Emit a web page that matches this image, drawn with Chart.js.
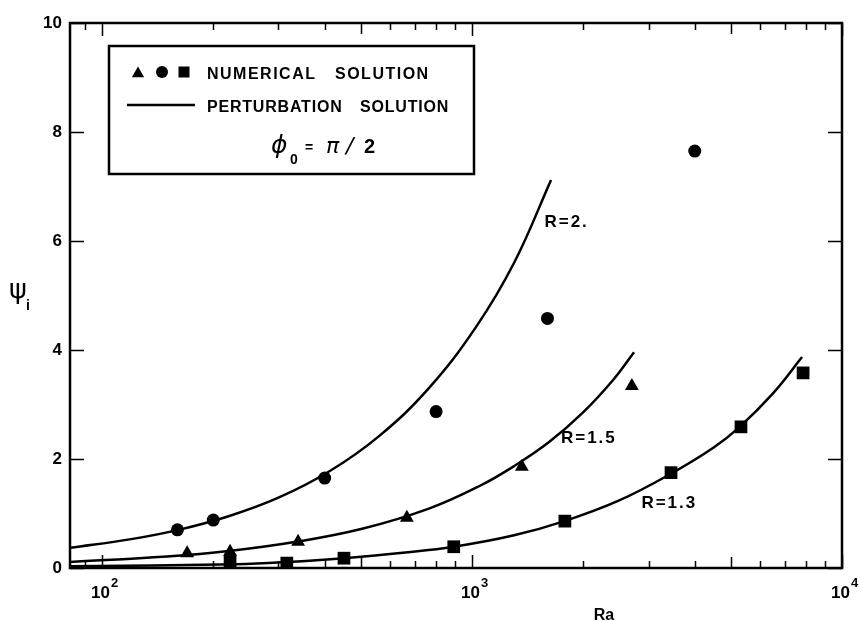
<!DOCTYPE html>
<html>
<head>
<meta charset="utf-8">
<script src="https://cdn.jsdelivr.net/npm/chart.js@4.4.1/dist/chart.umd.min.js"></script>
<style>
  html, body { margin: 0; background: #fff; }
  #wrap { width: 859px; height: 621px; }
</style>
</head>
<body>
<div id="wrap"><canvas id="chart"></canvas></div>
<script>
// numerical solution (markers)
const circleRa = [160, 200, 400, 800, 1600, 4000];
const circlePsi = [0.70, 0.88, 1.65, 2.87, 4.58, 7.65];
const triangleRa = [170, 222, 339, 667, 1364, 2705];
const trianglePsi = [0.27, 0.30, 0.48, 0.92, 1.86, 3.34];
const squareRa = [222, 316, 451, 893, 1783, 3451, 5333, 7850];
const squarePsi = [0.12, 0.09, 0.18, 0.39, 0.86, 1.75, 2.59, 3.58];

// perturbation solution (curves)
const curveR2Ra = [82, 120, 161, 220, 300, 411, 561, 765, 1025, 1300, 1636];
const curveR2Psi = [0.37, 0.53, 0.70, 0.95, 1.29, 1.77, 2.42, 3.30, 4.42, 5.60, 7.12];
const curveR15Ra = [82, 150, 220, 335, 505, 765, 1045, 1300, 1616, 2000, 2400, 2742];
const curveR15Psi = [0.11, 0.21, 0.31, 0.48, 0.72, 1.09, 1.50, 1.87, 2.31, 2.86, 3.44, 3.96];
const curveR13Ra = [82, 230, 316, 451, 650, 893, 1300, 1778, 2500, 3470, 4500, 5272, 6500, 7800];
const curveR13Psi = [0.03, 0.07, 0.11, 0.18, 0.28, 0.39, 0.60, 0.86, 1.24, 1.74, 2.21, 2.58, 3.20, 3.87];

// axes
const xMin = 82, xMax = 10000;
const xMajorTicks = [100, 1000, 10000];
const xMajorExp = ['2', '3', '4'];
const xMinorTicks = [90, 200, 300, 400, 500, 600, 700, 800, 900,
  2000, 3000, 4000, 5000, 6000, 7000, 8000, 9000];
const yTicks = [0, 2, 4, 6, 8, 10];
const curveLabels = [
  { text: 'R=2.', ra: 1570, psi: 6.25 },
  { text: 'R=1.5', ra: 1740, psi: 2.3 },
  { text: 'R=1.3', ra: 2870, psi: 1.1 }
];

const pts = (xs, ys) => xs.map((v, i) => ({ x: v, y: ys[i] }));

function markerSet(label, xs, ys, style, r) {
  return {
    label, data: pts(xs, ys), showLine: false,
    pointStyle: style, pointRadius: r, pointHoverRadius: r,
    backgroundColor: '#000', borderColor: '#000', borderWidth: 0
  };
}
function curveSet(label, xs, ys) {
  return {
    label, data: pts(xs, ys), showLine: true, pointRadius: 0,
    borderColor: '#000', borderWidth: 2.5, tension: 0.4
  };
}

function drawPointShape(ctx, style, x, y, r) {
  ctx.beginPath();
  if (style === 'circle') {
    ctx.arc(x, y, r, 0, Math.PI * 2);
  } else if (style === 'triangle') {
    ctx.moveTo(x, y - r);
    ctx.lineTo(x + r * 0.95, y + r * 0.65);
    ctx.lineTo(x - r * 0.95, y + r * 0.65);
    ctx.closePath();
  } else {
    ctx.rect(x - r, y - r, 2 * r, 2 * r);
  }
  ctx.fill();
}

const inkPlugin = {
  id: 'ink',
  afterDraw(chart) {
    const { ctx, chartArea: a, scales: { x, y } } = chart;
    ctx.save();
    ctx.strokeStyle = '#000';
    ctx.fillStyle = '#000';

    // frame
    ctx.lineWidth = 2.5;
    ctx.strokeRect(a.left, a.top, a.right - a.left, a.bottom - a.top);

    // x ticks, inward on bottom and top
    ctx.lineWidth = 1.5;
    const tick = (v, len) => {
      const px = Math.round(x.getPixelForValue(v)) + 0.5;
      ctx.beginPath();
      ctx.moveTo(px, a.bottom); ctx.lineTo(px, a.bottom - len);
      ctx.moveTo(px, a.top); ctx.lineTo(px, a.top + len);
      ctx.stroke();
    };
    xMajorTicks.forEach(v => tick(v, 13));
    xMinorTicks.forEach(v => tick(v, String(v)[0] === '5' ? 11 : 7));

    // y ticks, inward on left and right
    yTicks.forEach(v => {
      const py = Math.round(y.getPixelForValue(v)) + 0.5;
      ctx.beginPath();
      ctx.moveTo(a.left, py); ctx.lineTo(a.left + 14, py);
      ctx.moveTo(a.right, py); ctx.lineTo(a.right - 14, py);
      ctx.stroke();
    });

    // y tick labels
    ctx.font = 'bold 17px "Liberation Sans"';
    ctx.textAlign = 'right';
    ctx.textBaseline = 'middle';
    yTicks.forEach(v => ctx.fillText(String(v), a.left - 8, y.getPixelForValue(v)));

    // x tick labels 10^n
    ctx.textBaseline = 'alphabetic';
    xMajorTicks.forEach((v, i) => {
      const px = x.getPixelForValue(v);
      ctx.font = 'bold 17px "Liberation Sans"';
      ctx.textAlign = 'right';
      ctx.fillText('10', px + 8, 598);
      ctx.font = 'bold 13px "Liberation Sans"';
      ctx.textAlign = 'left';
      ctx.fillText(xMajorExp[i], px + 9, 587);
    });

    // axis titles
    ctx.font = 'bold 16px "Liberation Sans"';
    ctx.textAlign = 'center';
    ctx.fillText('Ra', 604, 620);
    ctx.font = '27px "DejaVu Sans"';
    ctx.textAlign = 'left';
    ctx.fillText('ψ', 9, 298);
    ctx.font = 'bold 14px "Liberation Sans"';
    ctx.fillText('i', 26, 310);

    // curve labels
    ctx.font = 'bold 17px "Liberation Sans"';
    ctx.letterSpacing = '2px';
    curveLabels.forEach(c => {
      ctx.fillText(c.text, x.getPixelForValue(c.ra), y.getPixelForValue(c.psi));
    });

    // legend box
    ctx.letterSpacing = '0px';
    ctx.lineWidth = 2.5;
    ctx.strokeRect(109, 46, 365, 128);
    drawPointShape(ctx, 'triangle', 138, 73, 6.5);
    drawPointShape(ctx, 'circle', 162, 72, 6);
    drawPointShape(ctx, 'rect', 184, 72, 5.5);
    ctx.lineWidth = 2.5;
    ctx.beginPath();
    ctx.moveTo(127, 105); ctx.lineTo(195, 105);
    ctx.stroke();
    ctx.font = 'bold 16px "Liberation Sans"';
    ctx.letterSpacing = '1.5px';
    ctx.fillText('NUMERICAL', 207, 79);
    ctx.fillText('SOLUTION', 335, 79);
    ctx.letterSpacing = '0.8px';
    ctx.fillText('PERTURBATION', 207, 112);
    ctx.fillText('SOLUTION', 360, 112);
    ctx.letterSpacing = '0px';
    ctx.font = 'italic 25px "DejaVu Sans"';
    ctx.fillText('ϕ', 271, 153);
    ctx.font = 'bold 14px "Liberation Sans"';
    ctx.fillText('0', 290, 164);
    ctx.font = 'bold 14px "Liberation Sans"';
    ctx.fillText('=', 305, 152);
    ctx.font = 'italic 22px "DejaVu Sans"';
    ctx.fillText('π', 326, 153);
    ctx.fillText('/', 346, 153);
    ctx.font = 'bold 20px "Liberation Sans"';
    ctx.fillText('2', 364, 153);
    ctx.restore();
  }
};

new Chart(document.getElementById('chart'), {
  type: 'scatter',
  data: {
    datasets: [
      markerSet('circles', circleRa, circlePsi, 'circle', 6.5),
      markerSet('triangles', triangleRa, trianglePsi, 'triangle', 8),
      markerSet('squares', squareRa, squarePsi, 'rect', 9),
      curveSet('R=2.', curveR2Ra, curveR2Psi),
      curveSet('R=1.5', curveR15Ra, curveR15Psi),
      curveSet('R=1.3', curveR13Ra, curveR13Psi)
    ]
  },
  options: {
    responsive: true,
    maintainAspectRatio: false,
    animation: false,
    layout: { padding: { top: 23, right: 17, left: 0, bottom: 0 } },
    plugins: { legend: { display: false }, tooltip: { enabled: false } },
    scales: {
      x: {
        type: 'logarithmic', min: xMin, max: xMax,
        grid: { display: false }, border: { display: false },
        ticks: { display: false },
        afterFit(s) { s.height = 53; }
      },
      y: {
        type: 'linear', min: 0, max: 10,
        grid: { display: false }, border: { display: false },
        ticks: { display: false },
        afterFit(s) { s.width = 70; }
      }
    }
  },
  plugins: [inkPlugin]
});
</script>
</body>
</html>
